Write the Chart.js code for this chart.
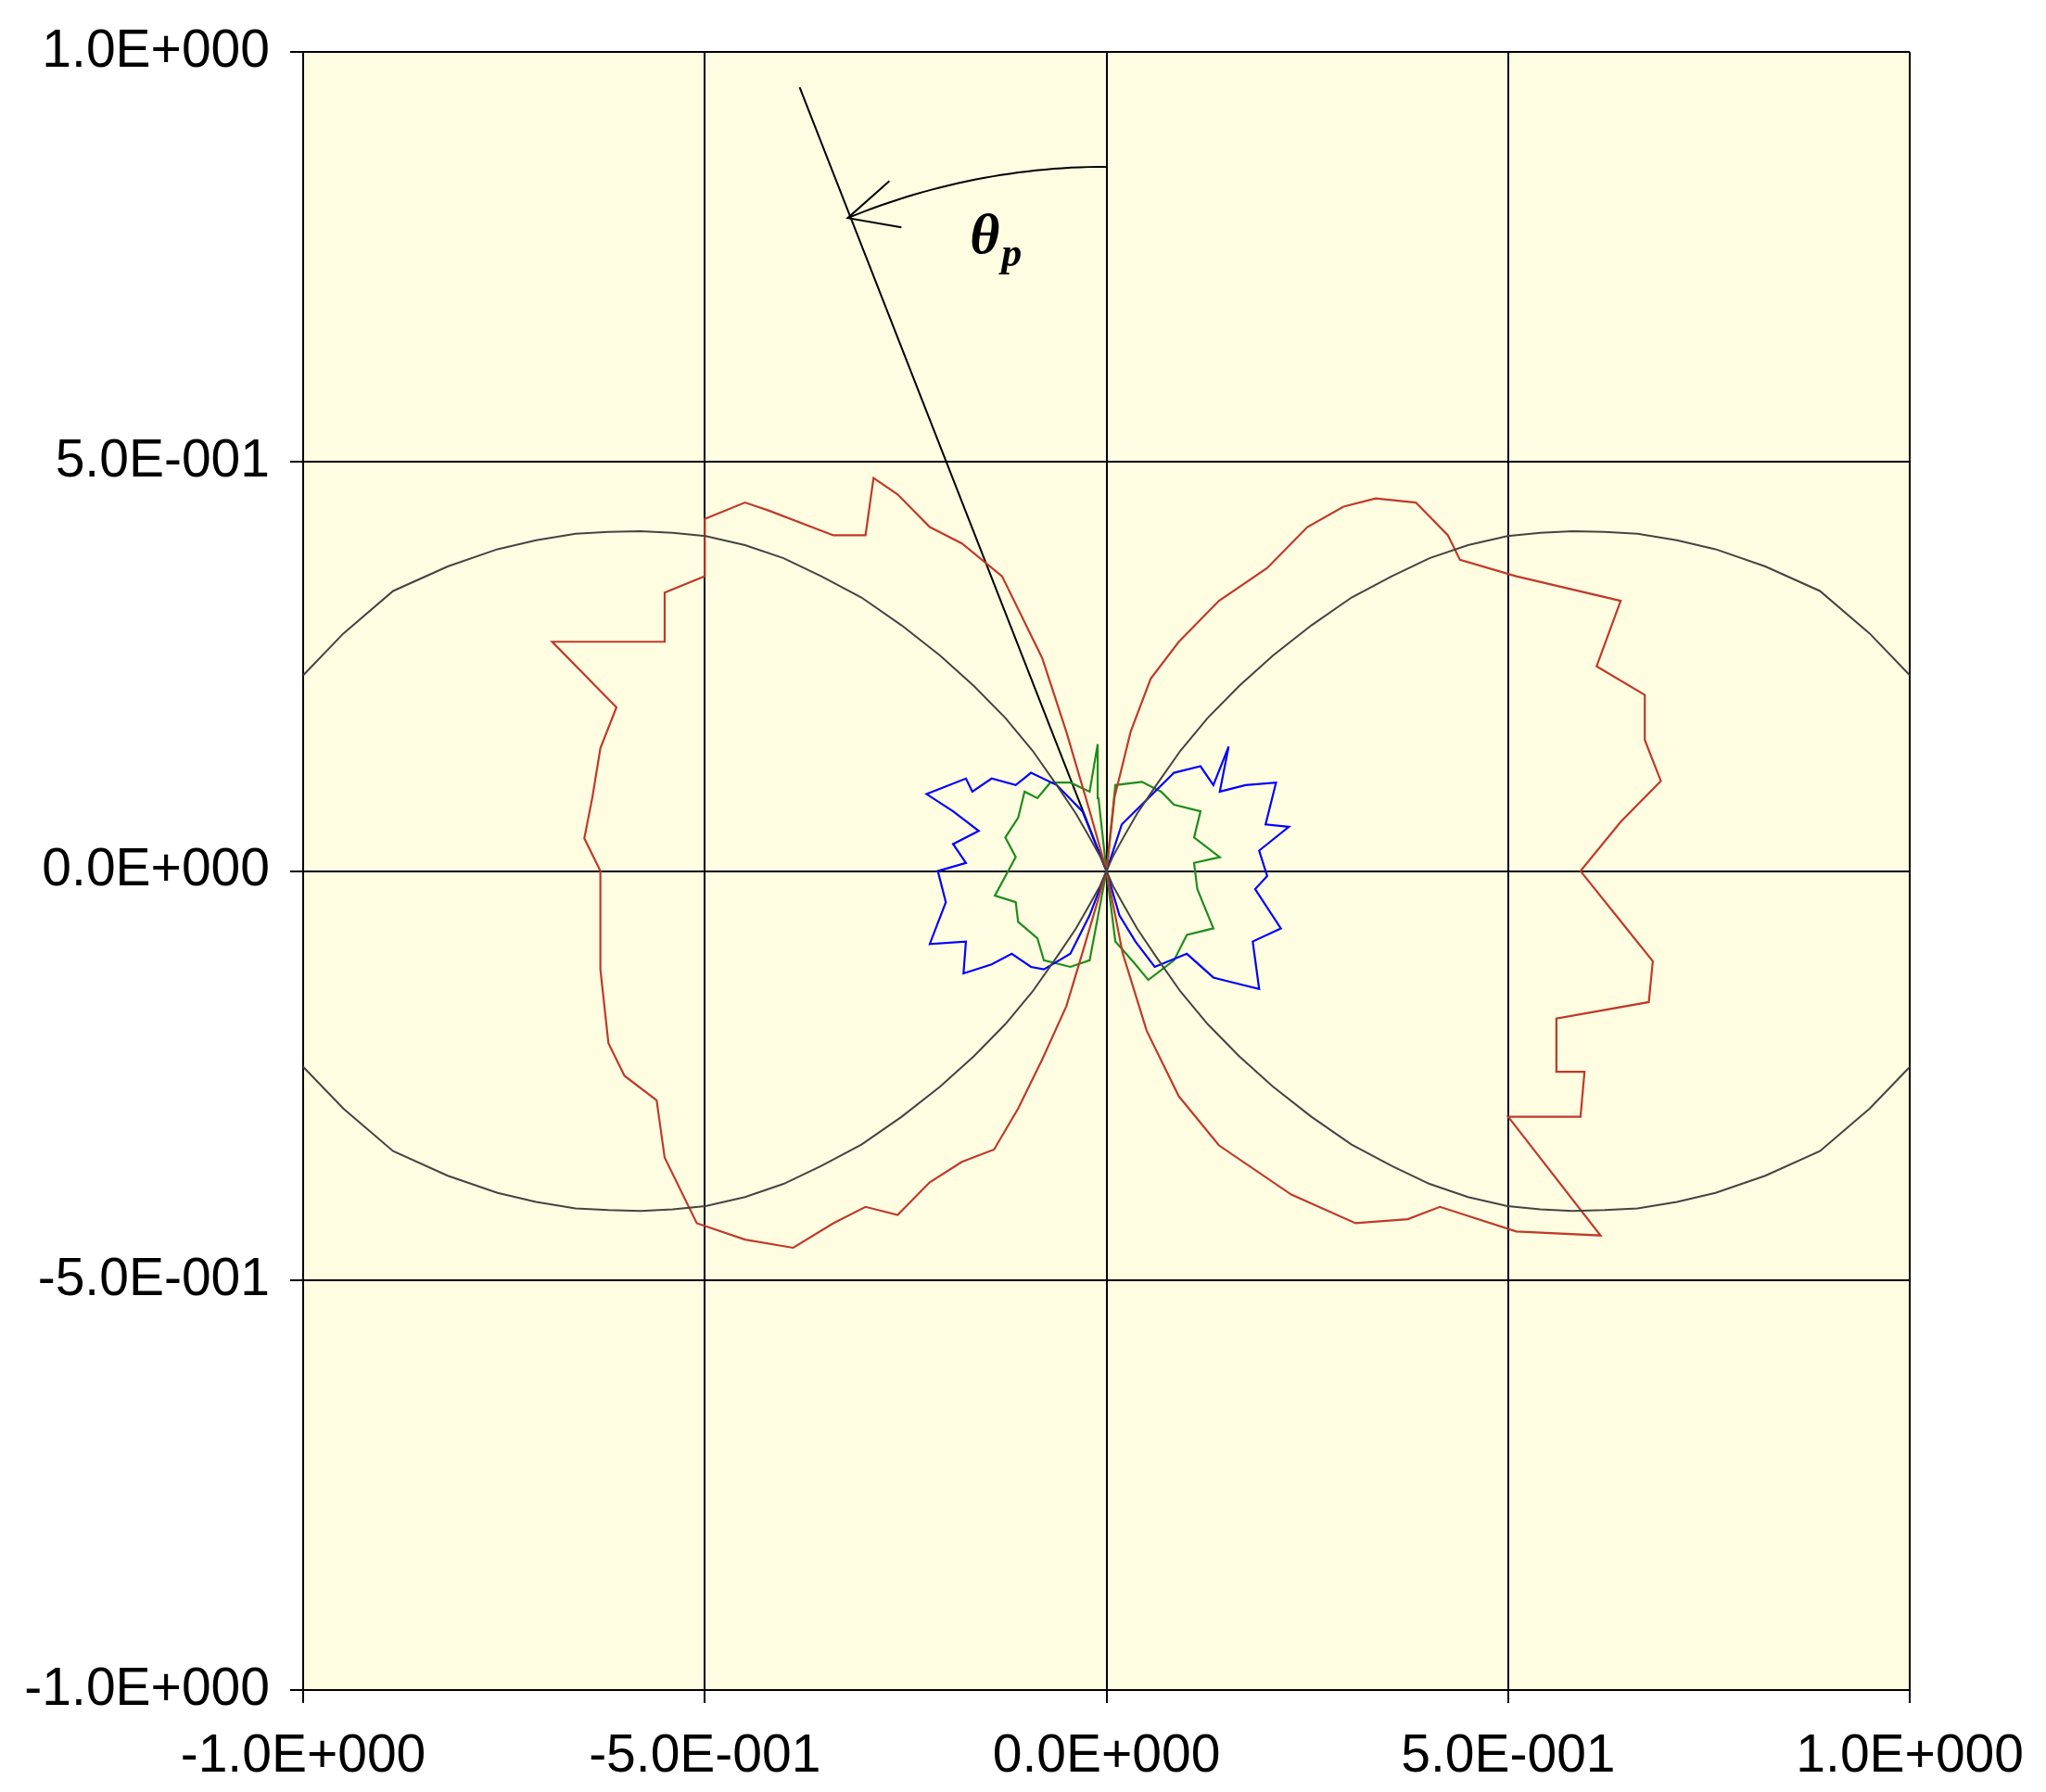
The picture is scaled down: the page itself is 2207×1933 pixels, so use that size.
<!DOCTYPE html>
<html><head><meta charset="utf-8">
<script src="https://cdn.jsdelivr.net/npm/chart.js@4/dist/chart.umd.min.js"></script>
<style>html,body{margin:0;padding:0;background:#fff}#w{width:2207px;height:1933px}</style>
</head><body><div id="w"><canvas id="c"></canvas></div>
<script>
const tickValues=[-1,-0.5,0,0.5,1];
const tickLabels=['-1.0E+000','-5.0E-001','0.0E+000','5.0E-001','1.0E+000'];
const blackCurve=[[-1,0.239],[-0.95,0.29],[-0.888,0.342],[-0.82,0.372],[-0.758,0.393],[-0.71,0.404],[-0.661,0.412],[-0.62,0.414],[-0.58,0.415],[-0.54,0.413],[-0.499,0.409],[-0.45,0.398],[-0.402,0.382],[-0.355,0.36],[-0.305,0.334],[-0.255,0.3],[-0.207,0.263],[-0.165,0.226],[-0.126,0.187],[-0.092,0.147],[-0.062,0.105],[-0.038,0.07],[-0.021,0.041],[-0.008,0.018],[0,0],[0.008,0.018],[0.021,0.041],[0.038,0.07],[0.062,0.105],[0.092,0.147],[0.126,0.187],[0.165,0.226],[0.207,0.263],[0.255,0.3],[0.305,0.334],[0.355,0.36],[0.402,0.382],[0.45,0.398],[0.499,0.409],[0.54,0.413],[0.58,0.415],[0.62,0.414],[0.661,0.412],[0.71,0.404],[0.758,0.393],[0.82,0.372],[0.888,0.342],[0.95,0.29],[1,0.239]];
const blackCurveLow=[[-1,-0.239],[-0.95,-0.29],[-0.888,-0.342],[-0.82,-0.372],[-0.758,-0.393],[-0.71,-0.404],[-0.661,-0.412],[-0.62,-0.414],[-0.58,-0.415],[-0.54,-0.413],[-0.499,-0.409],[-0.45,-0.398],[-0.402,-0.382],[-0.355,-0.36],[-0.305,-0.334],[-0.255,-0.3],[-0.207,-0.263],[-0.165,-0.226],[-0.126,-0.187],[-0.092,-0.147],[-0.062,-0.105],[-0.038,-0.07],[-0.021,-0.041],[-0.008,-0.018],[0,0],[0.008,-0.018],[0.021,-0.041],[0.038,-0.07],[0.062,-0.105],[0.092,-0.147],[0.126,-0.187],[0.165,-0.226],[0.207,-0.263],[0.255,-0.3],[0.305,-0.334],[0.355,-0.36],[0.402,-0.382],[0.45,-0.398],[0.499,-0.409],[0.54,-0.413],[0.58,-0.415],[0.62,-0.414],[0.661,-0.412],[0.71,-0.404],[0.758,-0.393],[0.82,-0.372],[0.888,-0.342],[0.95,-0.29],[1,-0.239]];
const redLeft=[[0,0],[-0.02,0.07],[-0.05,0.17],[-0.08,0.26],[-0.13,0.36],[-0.18,0.40],[-0.22,0.42],[-0.26,0.46],[-0.29,0.48],[-0.30,0.41],[-0.34,0.41],[-0.42,0.44],[-0.45,0.45],[-0.50,0.43],[-0.50,0.36],[-0.55,0.34],[-0.55,0.28],[-0.69,0.28],[-0.61,0.20],[-0.63,0.15],[-0.64,0.09],[-0.65,0.04],[-0.63,0.0],[-0.63,-0.12],[-0.62,-0.21],[-0.60,-0.25],[-0.56,-0.28],[-0.55,-0.35],[-0.51,-0.43],[-0.45,-0.45],[-0.39,-0.46],[-0.34,-0.43],[-0.30,-0.41],[-0.26,-0.42],[-0.22,-0.38],[-0.18,-0.355],[-0.14,-0.34],[-0.11,-0.29],[-0.08,-0.23],[-0.05,-0.165],[-0.03,-0.10],[0,0]];
const redRight=[[0,0],[0.01,0.09],[0.03,0.17],[0.055,0.235],[0.09,0.28],[0.14,0.33],[0.20,0.37],[0.25,0.42],[0.295,0.445],[0.335,0.455],[0.385,0.45],[0.425,0.41],[0.44,0.38],[0.51,0.36],[0.64,0.33],[0.61,0.25],[0.67,0.215],[0.67,0.16],[0.69,0.11],[0.64,0.06],[0.59,0.0],[0.635,-0.055],[0.68,-0.11],[0.675,-0.16],[0.56,-0.18],[0.56,-0.245],[0.595,-0.245],[0.59,-0.30],[0.50,-0.30],[0.615,-0.445],[0.51,-0.44],[0.415,-0.41],[0.375,-0.425],[0.31,-0.43],[0.23,-0.395],[0.14,-0.335],[0.09,-0.275],[0.05,-0.195],[0.02,-0.10],[0,0]];
const blueLeft=[[0,0],[-0.03,0.073],[-0.062,0.105],[-0.094,0.12],[-0.113,0.105],[-0.143,0.113],[-0.167,0.097],[-0.175,0.113],[-0.224,0.094],[-0.191,0.073],[-0.159,0.049],[-0.191,0.033],[-0.175,0.01],[-0.21,0.0],[-0.2,-0.038],[-0.22,-0.089],[-0.175,-0.086],[-0.178,-0.125],[-0.143,-0.114],[-0.118,-0.101],[-0.094,-0.117],[-0.078,-0.12],[-0.045,-0.101],[-0.021,-0.054],[0,0]];
const blueRight=[[0,0],[0.019,0.057],[0.052,0.089],[0.084,0.12],[0.117,0.128],[0.133,0.105],[0.152,0.152],[0.141,0.097],[0.173,0.105],[0.211,0.108],[0.198,0.057],[0.227,0.054],[0.19,0.025],[0.2,-0.006],[0.185,-0.022],[0.217,-0.07],[0.182,-0.086],[0.19,-0.144],[0.157,-0.136],[0.133,-0.13],[0.1,-0.101],[0.06,-0.117],[0.036,-0.086],[0.016,-0.054],[0,0]];
const greenLeft=[[0,0],[-0.01,0.089],[-0.011,0.155],[-0.021,0.097],[-0.045,0.108],[-0.07,0.108],[-0.086,0.089],[-0.102,0.097],[-0.11,0.065],[-0.126,0.041],[-0.113,0.017],[-0.139,-0.03],[-0.113,-0.038],[-0.11,-0.062],[-0.086,-0.082],[-0.078,-0.109],[-0.045,-0.117],[-0.021,-0.109],[0,0]];
const greenRight=[[0,0],[0.011,0.105],[0.044,0.109],[0.068,0.097],[0.084,0.081],[0.117,0.073],[0.109,0.041],[0.141,0.017],[0.109,0.01],[0.113,-0.022],[0.133,-0.07],[0.1,-0.078],[0.084,-0.109],[0.052,-0.133],[0.036,-0.114],[0.011,-0.086],[0,0]];
const pointerLine=[[-0.382,0.957],[0,0]];
const arcRadius=0.86, arcAngleDeg=22;

const pts=a=>a.map(p=>({x:p[0],y:p[1]}));
const ds=(d,c,w)=>({data:pts(d),borderColor:c,borderWidth:w,showLine:true,pointRadius:0,fill:false,tension:0});
const fmt=v=>{const i=tickValues.findIndex(t=>Math.abs(t-v)<1e-9);return i>=0?tickLabels[i]:'';};

const deco={id:'deco',
 beforeDraw(ch){const {ctx,chartArea:a}=ch;ctx.save();ctx.fillStyle='#fffde1';ctx.fillRect(a.left,a.top,a.right-a.left,a.bottom-a.top);ctx.restore();},
 afterDatasetsDraw(ch){const {ctx,scales:{x,y}}=ch;ctx.save();
  const ox=x.getPixelForValue(0),oy=y.getPixelForValue(0);
  const rx=x.getPixelForValue(arcRadius)-ox, ry=oy-y.getPixelForValue(arcRadius);
  ctx.strokeStyle='#000';ctx.lineWidth=2;ctx.beginPath();
  const n=30;let ex,ey;
  for(let i=0;i<=n;i++){const t=arcAngleDeg*Math.PI/180*i/n;const px=ox-rx*Math.sin(t),py=oy-ry*Math.cos(t);if(i===0)ctx.moveTo(px,py);else ctx.lineTo(px,py);ex=px;ey=py;}
  ctx.stroke();
  ctx.beginPath();ctx.moveTo(ex+45,ey-40);ctx.lineTo(ex,ey);ctx.lineTo(ex+58,ey+10);ctx.stroke();
  const lx=x.getPixelForValue(-0.17),ly=y.getPixelForValue(0.755);
  ctx.fillStyle='#000';ctx.font='bold italic 62px "Liberation Serif"';ctx.textAlign='left';ctx.textBaseline='alphabetic';
  ctx.fillText('θ',lx,ly);ctx.font='bold italic 44px "Liberation Serif"';ctx.fillText('p',lx+34,ly+14);
  ctx.restore();}
};

const gridOpts={color:'#000',lineWidth:2,drawTicks:true,tickLength:14};
new Chart(document.getElementById('c'),{type:'scatter',
 data:{datasets:[ds(blackCurve,'#444',2),ds(blackCurveLow,'#444',2),ds(redLeft,'#c0392b',2.2),ds(redRight,'#c0392b',2.2),ds(blueLeft,'#0000ff',2.2),ds(blueRight,'#0000ff',2.2),ds(greenLeft,'#1e8c1e',2.2),ds(greenRight,'#1e8c1e',2.2),ds(pointerLine,'#000',2)]},
 options:{responsive:true,maintainAspectRatio:false,animation:false,
  layout:{padding:{left:0,right:144,top:43,bottom:0}},
  plugins:{legend:{display:false},tooltip:{enabled:false}},
  scales:{
   x:{type:'linear',min:-1,max:1,afterBuildTicks:s=>{s.ticks=tickValues.map(v=>({value:v}));},
      grid:gridOpts,border:{color:'#000',width:2},
      ticks:{callback:fmt,color:'#000',font:{family:'Liberation Sans',size:57},maxRotation:0,padding:24},
      afterFit:s=>{s.height=110;}},
   y:{type:'linear',min:-1,max:1,afterBuildTicks:s=>{s.ticks=tickValues.map(v=>({value:v}));},
      grid:gridOpts,border:{color:'#000',width:2},
      ticks:{callback:fmt,color:'#000',font:{family:'Liberation Sans',size:57},padding:22},
      afterFit:s=>{s.width=327;}}
  }},
 plugins:[deco]});
</script></body></html>
